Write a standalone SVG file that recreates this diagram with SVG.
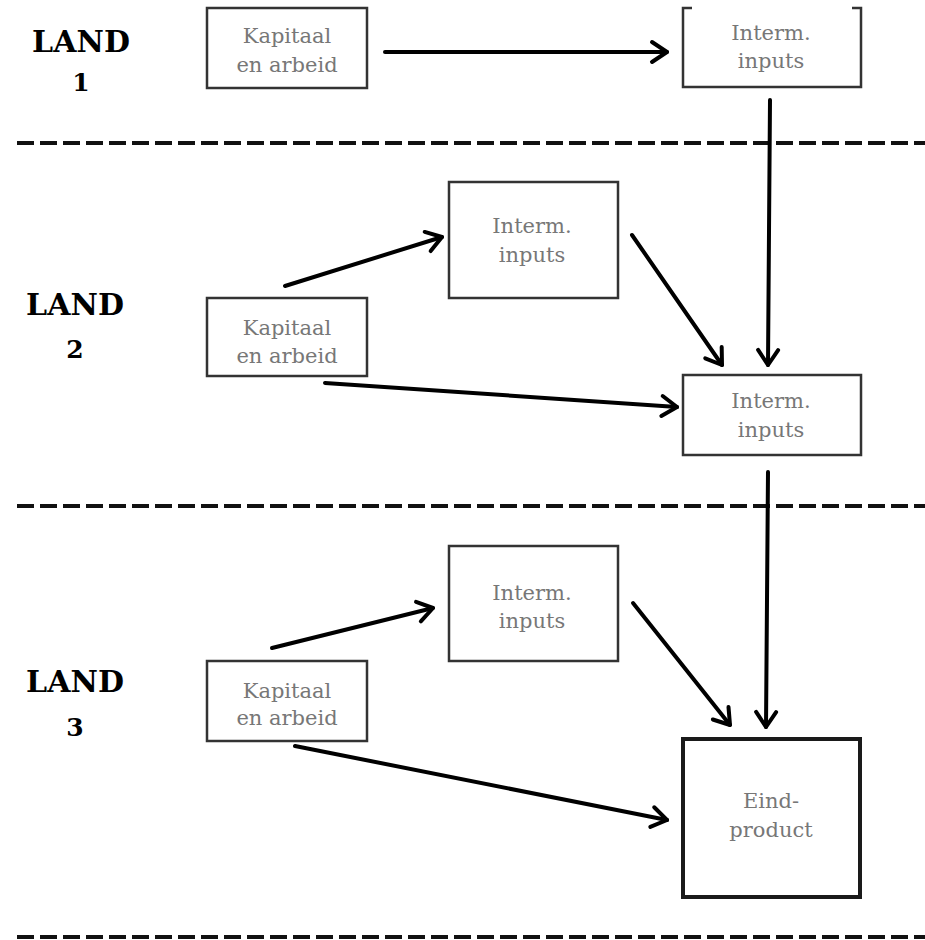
<svg xmlns="http://www.w3.org/2000/svg" width="925" height="940" viewBox="0 0 925 940">
<style>
.box{fill:#fff;stroke:#333;stroke-width:2.5}
.boxb{fill:#fff;stroke:#1a1a1a;stroke-width:4}
.lbl{font-family:"DejaVu Serif","Liberation Serif",serif;font-size:21px;fill:#777;text-anchor:middle}
.land{font-family:"DejaVu Serif","Liberation Serif",serif;font-size:30px;font-weight:bold;fill:#000;text-anchor:middle}
.num{font-family:"DejaVu Serif","Liberation Serif",serif;font-size:25px;font-weight:bold;fill:#000;text-anchor:middle}
.sep{stroke:#111;stroke-width:4;stroke-dasharray:17 6;fill:none}
.arr{stroke:#000;stroke-width:4;fill:none;stroke-linecap:round;marker-end:url(#ah)}
</style>
<defs>
<marker id="ah" markerUnits="userSpaceOnUse" viewBox="-20 -14 24 28" refX="0" refY="0" markerWidth="24" markerHeight="28" orient="auto">
<path d="M-15,-10 L0,0 L-15,10" fill="none" stroke="#000" stroke-width="4" stroke-linecap="round" stroke-linejoin="round"/>
</marker>
</defs>
<rect width="925" height="940" fill="#fff"/>

<g id="separators">
<line class="sep" x1="17" y1="143" x2="925" y2="143"/>
<line class="sep" x1="17" y1="506" x2="925" y2="506"/>
<line class="sep" x1="17" y1="937" x2="925" y2="937"/>
</g>

<g id="land-labels">
<text class="land" x="81" y="52">LAND</text>
<text class="num" x="81" y="91">1</text>
<text class="land" x="75" y="315">LAND</text>
<text class="num" x="75" y="358">2</text>
<text class="land" x="75" y="692">LAND</text>
<text class="num" x="75" y="736">3</text>
</g>

<g id="connectors">
<line class="arr" x1="385" y1="52" x2="667" y2="52"/>
<line class="arr" x1="770" y1="100" x2="768" y2="365"/>
<line class="arr" x1="285" y1="286" x2="442" y2="237"/>
<line class="arr" x1="325" y1="383" x2="677" y2="407"/>
<line class="arr" x1="632" y1="235" x2="722" y2="365"/>
<line class="arr" x1="768" y1="472" x2="766" y2="727"/>
<line class="arr" x1="272" y1="648" x2="433" y2="608"/>
<line class="arr" x1="295" y1="746" x2="667" y2="820"/>
<line class="arr" x1="633" y1="603" x2="730" y2="725"/>
</g>

<g id="n1-kapitaal">
<rect class="box" x="207" y="8" width="160" height="80"/>
<text class="lbl" x="287" y="43">Kapitaal</text>
<text class="lbl" x="287" y="72">en arbeid</text>
</g>

<g id="n1-interm">
<path d="M692,8 H683 V87 H861 V8 H852" fill="#fff" stroke="#333" stroke-width="2.5"/>
<text class="lbl" x="771" y="40">Interm.</text>
<text class="lbl" x="771" y="68">inputs</text>
</g>

<g id="n2-interm-a">
<rect class="box" x="449" y="182" width="169" height="116"/>
<text class="lbl" x="532" y="233">Interm.</text>
<text class="lbl" x="532" y="262">inputs</text>
</g>

<g id="n2-kapitaal">
<rect class="box" x="207" y="298" width="160" height="78"/>
<text class="lbl" x="287" y="335">Kapitaal</text>
<text class="lbl" x="287" y="363">en arbeid</text>
</g>

<g id="n2-interm-b">
<rect class="box" x="683" y="375" width="178" height="80"/>
<text class="lbl" x="771" y="408">Interm.</text>
<text class="lbl" x="771" y="437">inputs</text>
</g>

<g id="n3-interm">
<rect class="box" x="449" y="546" width="169" height="115"/>
<text class="lbl" x="532" y="600">Interm.</text>
<text class="lbl" x="532" y="628">inputs</text>
</g>

<g id="n3-kapitaal">
<rect class="box" x="207" y="661" width="160" height="80"/>
<text class="lbl" x="287" y="698">Kapitaal</text>
<text class="lbl" x="287" y="725">en arbeid</text>
</g>

<g id="n3-eindproduct">
<rect class="boxb" x="683" y="739" width="177" height="158"/>
<text class="lbl" x="771" y="808">Eind-</text>
<text class="lbl" x="771" y="837">product</text>
</g>
</svg>
